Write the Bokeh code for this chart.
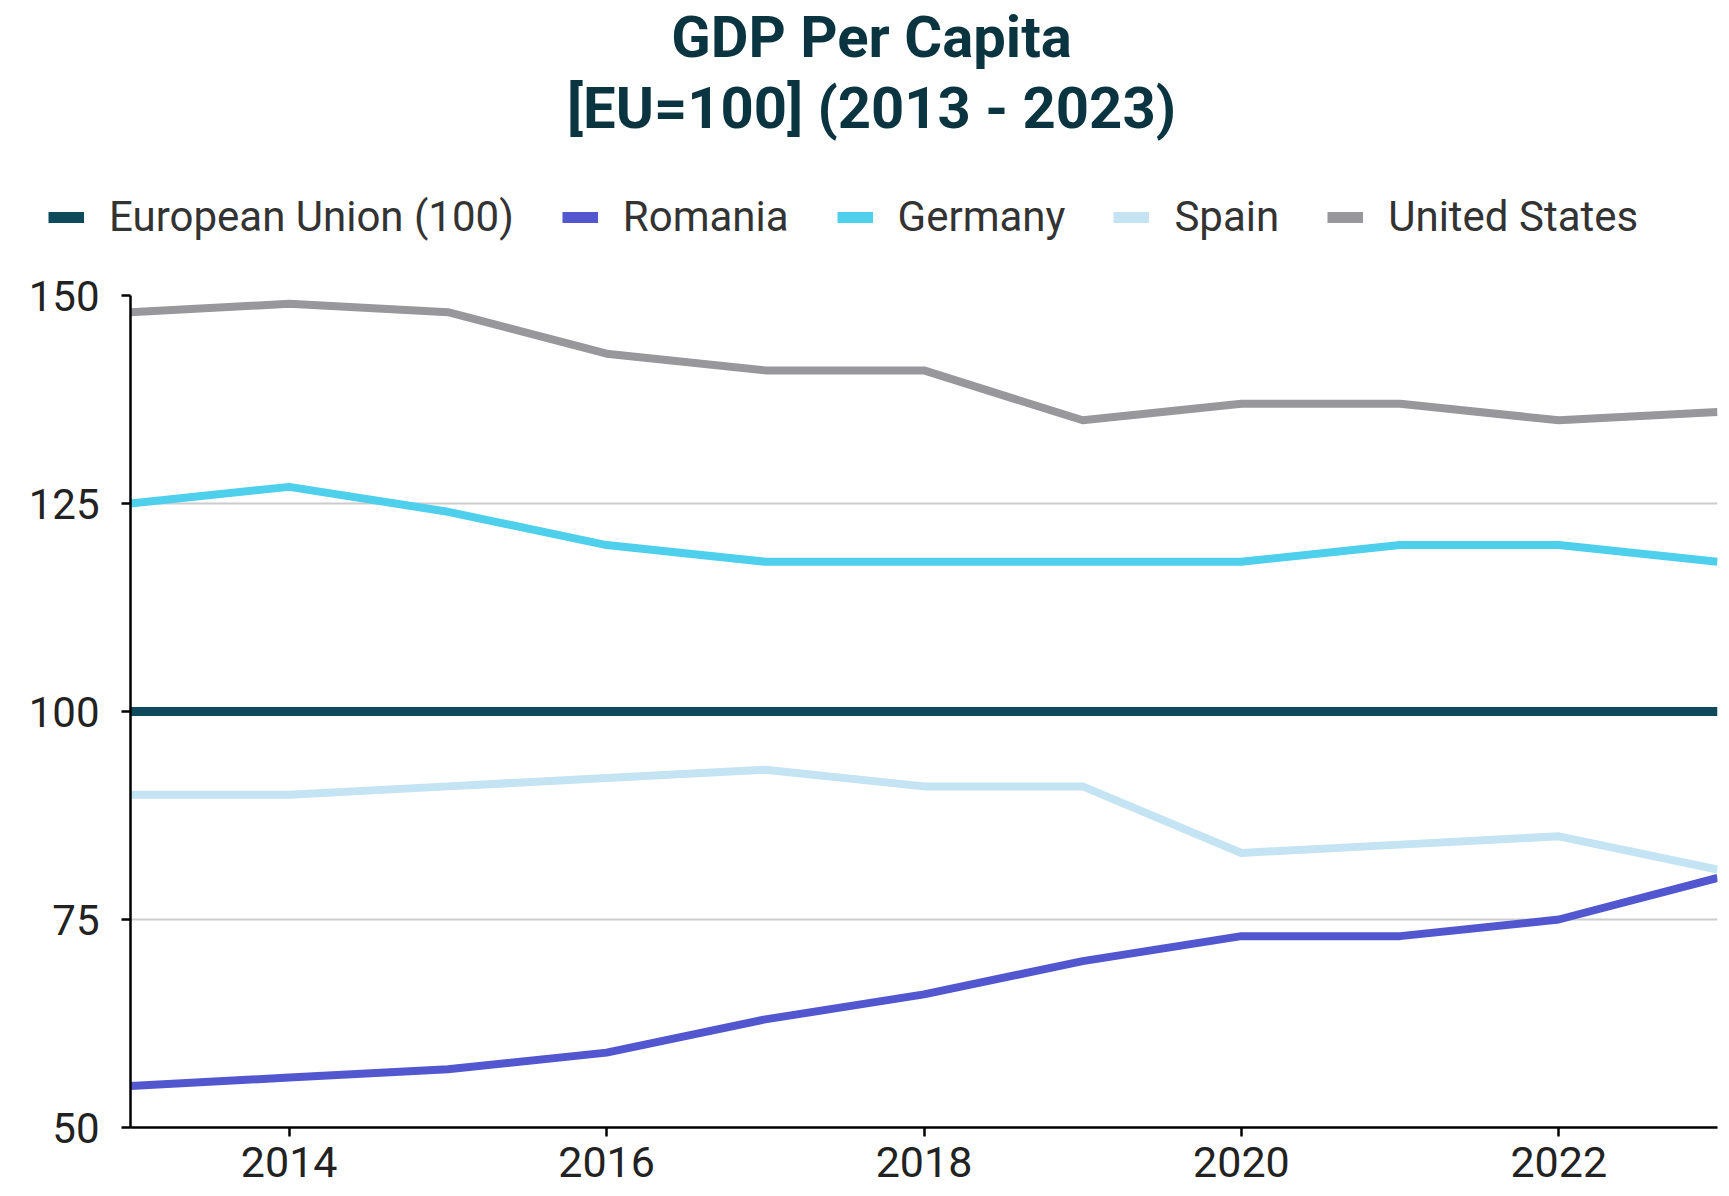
from bokeh.plotting import figure
from bokeh.layouts import column
from bokeh.models import Legend, LegendItem, Label, FixedTicker, Range1d
from bokeh.embed import file_html
from bokeh.resources import INLINE

years = [2013, 2014, 2015, 2016, 2017, 2018, 2019, 2020, 2021, 2022, 2023]
european_union = [100, 100, 100, 100, 100, 100, 100, 100, 100, 100, 100]
romania = [55, 56, 57, 59, 63, 66, 70, 73, 73, 75, 80]
germany = [125, 127, 124, 120, 118, 118, 118, 118, 120, 120, 118]
spain = [90, 90, 91, 92, 93, 91, 91, 83, 84, 85, 81]
united_states = [148, 149, 148, 143, 141, 141, 135, 137, 137, 135, 136]

y_ticks = [50, 75, 100, 125, 150]
x_ticks = [2014, 2016, 2018, 2020, 2022]

title_text = "GDP Per Capita\n[EU=100] (2013 - 2023)"

FONT = "Roboto"
TOP_H = 255
W = 1729
H = 1196

# series: name, values, colour, width (draw order)
series = [
    ("United States", united_states, "#98989c", 8),
    ("Spain", spain, "#c4e3f3", 8),
    ("Germany", germany, "#4ecfec", 8),
    ("Romania", romania, "#5257cf", 8),
    ("European Union (100)", european_union, "#0e4a5c", 9),
]
legend_order = ["European Union (100)", "Romania", "Germany", "Spain", "United States"]

# ---- header figure (title + legend); its ranges keep the key lines out of view
top = figure(width=W, height=TOP_H, output_backend="svg", toolbar_location=None,
             x_range=Range1d(0, 1), y_range=Range1d(0, 1),
             x_axis_location=None, y_axis_location=None,
             min_border_left=0, min_border_right=0, min_border_top=0, min_border_bottom=0)
top.frame_align = False
top.outline_line_color = None
top.grid.visible = False

key_renderers = {}
for name, vals, col, lw in series:
    key_renderers[name] = top.line(years, vals, line_width=11, line_color=col)

legend = Legend(items=[LegendItem(label=n, renderers=[key_renderers[n]]) for n in legend_order],
                orientation="horizontal", location=(48, 14),
                padding=0, margin=0, spacing=48, glyph_width=36, glyph_height=40,
                label_standoff=25, label_text_font=FONT, label_text_font_size="42px",
                label_text_color="#333333", border_line_color=None,
                background_fill_alpha=0)
top.add_layout(legend, "center")

title = Label(x=871, y=TOP_H - 72, x_units="screen", y_units="screen", text=title_text,
              text_align="center", text_baseline="middle", text_font=FONT,
              text_font_style="bold", text_font_size="58px", text_color="#0b3441",
              text_line_height=1.03)
top.add_layout(title)

# ---- main chart
p = figure(width=W, height=H - TOP_H, output_backend="svg", toolbar_location=None,
           x_range=Range1d(2013, 2023), y_range=Range1d(50, 150),
           min_border_left=130, min_border_right=12, min_border_top=40, min_border_bottom=69)
p.frame_align = False
p.outline_line_color = None

for name, vals, col, lw in series:
    p.line(years, vals, line_width=lw, line_color=col)

p.xgrid.visible = False
p.ygrid.ticker = FixedTicker(ticks=y_ticks)
p.ygrid.grid_line_color = "#cccccc"
p.ygrid.grid_line_width = 2

for ax in (p.xaxis[0], p.yaxis[0]):
    ax.axis_line_color = "black"
    ax.axis_line_width = 2.5
    ax.major_tick_line_color = "black"
    ax.major_tick_line_width = 2.5
    ax.major_tick_out = 9
    ax.major_tick_in = 0
    ax.minor_tick_line_color = None
    ax.major_label_text_font = FONT
    ax.major_label_text_color = "#222222"

p.yaxis[0].major_label_text_font_size = "42px"
p.xaxis[0].major_label_text_font_size = "43px"
p.yaxis[0].ticker = FixedTicker(ticks=y_ticks)
p.xaxis[0].ticker = FixedTicker(ticks=x_ticks)
p.yaxis[0].major_label_standoff = 22
p.xaxis[0].major_label_standoff = 10

layout = column(top, p, spacing=0)
open("out.html", "w").write(file_html(layout, INLINE))
